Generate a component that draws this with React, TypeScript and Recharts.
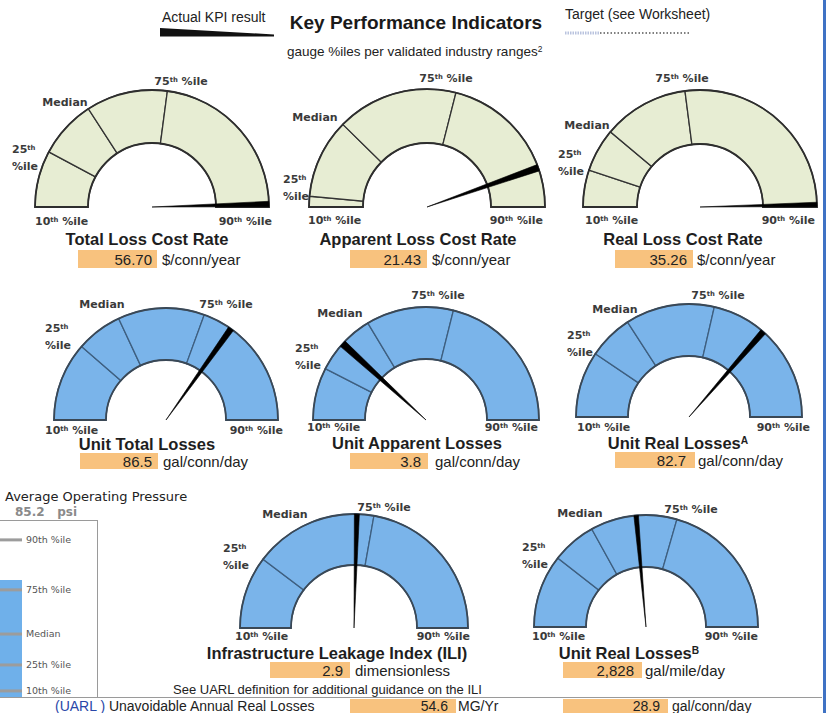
import React from 'react';
import { PieChart, Pie, Cell, BarChart, Bar, XAxis, YAxis, ReferenceLine } from 'recharts';

// ---------------- data ----------------
const kpiTitles = [
  'Total Loss Cost Rate',
  'Apparent Loss Cost Rate',
  'Real Loss Cost Rate',
  'Unit Total Losses',
  'Unit Apparent Losses',
  'Unit Real Losses',
  'Infrastructure Leakage Index (ILI)',
  'Unit Real Losses',
];
const kpiTitleSup = ['', '', '', '', '', 'A', '', 'B'];
const kpiValues = ['56.70', '21.43', '35.26', '86.5', '3.8', '82.7', '2.9', '2,828'];
const kpiUnits = [
  '$/conn/year', '$/conn/year', '$/conn/year',
  'gal/conn/day', 'gal/conn/day', 'gal/conn/day',
  'dimensionless', 'gal/mile/day',
];
// gauge position scale: 0 = 10th %ile, 100 = 90th %ile
const p25Pos = [15.6, 2.9, 10.2, 22.8, 15.0, 18.9, 20.6, 21.1];
const medianPos = [31.7, 24.7, 22.2, 36.1, 32.8, 31.7, 50.8, 33.9];
const p75Pos = [54.2, 57.9, 45.9, 61.1, 57.8, 57.2, 55.6, 58.9];
const actualPos = [99.2, 89.2, 99.3, 69.7, 23.6, 72.8, 50.8, 47.2];
const needleSpan = [1.5, 1.8, 1.2, 1.7, 2.0, 1.7, 1.4, 1.3];
const segmentNames = ['10th-25th', '25th-Median', 'Median-75th', '75th-90th'];

const pressureValue = 85.2;
const pressureUnit = 'psi';
const pressurePctNames = ['10th %ile', '25th %ile', 'Median', '75th %ile', '90th %ile'];
const pressurePctValues = [45, 54.4, 65.6, 81.6, 99.7];
const pressureDomain = [42.8, 106.9];

const uarlVolume = '54.6';
const uarlVolumeUnit = 'MG/Yr';
const uarlPerConn = '28.9';
const uarlPerConnUnit = 'gal/conn/day';

// ---------------- layout ----------------
const FONT = '"Liberation Sans", Arial, sans-serif';
const DJ = '"DejaVu Sans", Verdana, sans-serif';
const GREEN = '#e7edd3';
const BLUE = '#7ab4ea';
const ORANGE = '#f8c27e';

const gaugeLayout = [
  { cx: 152, cy: 207, ro: 117, ri: 64, med: [65, 102], p75: [181, 81], p25: [12, 149], p10: [35, 221], p90: [272, 221], title: [147, 239], box: [78, 250, 79, 18], valEnd: 152, unitX: 162, green: true },
  { cx: 426.5, cy: 207, ro: 118, ri: 64, med: [315, 117], p75: [446, 78], p25: [283, 179], p10: [308, 220], p90: [543, 220], title: [418, 239], box: [350, 250, 77, 18], valEnd: 421, unitX: 432, green: true },
  { cx: 700, cy: 207, ro: 117, ri: 63, med: [587, 125], p75: [682, 78], p25: [558, 154], p10: [585, 220], p90: [815, 220], title: [683, 239], box: [615, 250, 78, 18], valEnd: 687, unitX: 697, green: true },
  { cx: 166, cy: 420, ro: 112, ri: 60, med: [102, 304], p75: [226, 304], p25: [45, 328], p10: [45, 430], p90: [283, 430], title: [147, 444], box: [80, 453, 78, 16], valEnd: 152, unitX: 163 },
  { cx: 425.5, cy: 420, ro: 113, ri: 61, med: [340, 313], p75: [438, 295], p25: [295, 348], p10: [307, 427], p90: [538, 427], title: [417, 443], box: [350, 453, 78, 16], valEnd: 421, unitX: 435 },
  { cx: 688.5, cy: 417, ro: 113, ri: 61, med: [615, 309], p75: [718, 295], p25: [567, 335], p10: [577, 427], p90: [810, 427], title: [678, 443], box: [615, 452, 80, 16], valEnd: 686, unitX: 698 },
  { cx: 354, cy: 628, ro: 114, ri: 63, med: [285, 514], p75: [384, 507], p25: [223, 548], p10: [235, 636], p90: [470, 636], title: [337, 653], box: [270, 662, 80, 16], valEnd: 343, unitX: 355 },
  { cx: 645.5, cy: 627, ro: 112, ri: 60, med: [580, 513], p75: [691, 509], p25: [522, 547], p10: [532, 636], p90: [758, 636], title: [629, 653], box: [563, 662, 79, 16], valEnd: 634, unitX: 645 },
];

function Txt({ x, y, anchor = 'start', size = 12, weight = 400, family = FONT, color = '#222', children }: any) {
  const tx = anchor === 'middle' ? '-50%' : anchor === 'end' ? '-100%' : '0';
  return (
    <div
      style={{
        position: 'absolute', left: x, top: y, transform: `translate(${tx},-50%)`,
        fontSize: size, fontWeight: weight, fontFamily: family, color,
        whiteSpace: 'nowrap', lineHeight: 1,
      }}
    >
      {children}
    </div>
  );
}

const Sup = ({ children }: any) => (
  <span style={{ fontSize: '0.62em', position: 'relative', top: '-0.5em' }}>{children}</span>
);

function Box({ b }: any) {
  return <div style={{ position: 'absolute', left: b[0], top: b[1], width: b[2], height: b[3], background: ORANGE }} />;
}

function Gauge({ i }: { i: number }) {
  const L: any = gaugeLayout[i];
  const W = L.ro * 2 + 24;
  const H = L.ro + 16;
  const pcx = W / 2;
  const pcy = L.ro + 8;
  const segs = [
    { name: segmentNames[0], value: p25Pos[i] },
    { name: segmentNames[1], value: medianPos[i] - p25Pos[i] },
    { name: segmentNames[2], value: p75Pos[i] - medianPos[i] },
    { name: segmentNames[3], value: 100 - p75Pos[i] },
  ];
  const needle = [
    { name: 'before', value: actualPos[i] - needleSpan[i] / 2 },
    { name: 'actual', value: needleSpan[i] },
    { name: 'after', value: Math.max(0.01, 100 - actualPos[i] - needleSpan[i] / 2) },
  ];
  const fill = L.green ? GREEN : BLUE;
  const divStroke = L.green ? '#333' : '#3e5f80';
  const outStroke = L.green ? '#2e2e2e' : '#3a4856';
  const lbl = { size: 11, weight: 700, family: DJ, color: '#3a3a3a' };
  return (
    <>
      <div style={{ position: 'absolute', left: L.cx - W / 2, top: L.cy - pcy, width: W, height: H }}>
        <PieChart width={W} height={H} margin={{ top: 0, right: 0, bottom: 0, left: 0 }}>
          <Pie
            data={segs} dataKey="value" nameKey="name" cx={pcx} cy={pcy}
            startAngle={180} endAngle={0} innerRadius={L.ri} outerRadius={L.ro}
            fill={fill} stroke={divStroke} strokeWidth={1.3} isAnimationActive={false}
          >
            {segs.map((s, k) => (
              <Cell key={k} fill={fill} stroke={divStroke} strokeWidth={1.3} />
            ))}
          </Pie>
          <Pie
            data={[{ name: 'range', value: 100 }]} dataKey="value" cx={pcx} cy={pcy}
            startAngle={180} endAngle={0} innerRadius={L.ri} outerRadius={L.ro}
            fill="none" stroke={outStroke} strokeWidth={1.8} isAnimationActive={false}
          >
            <Cell fill="none" stroke={outStroke} strokeWidth={1.8} />
          </Pie>
          <Pie
            data={needle} dataKey="value" nameKey="name" cx={pcx} cy={pcy}
            startAngle={180} endAngle={0} innerRadius={0} outerRadius={L.ro}
            stroke="none" isAnimationActive={false}
          >
            <Cell fill="transparent" stroke="none" />
            <Cell fill="#000" stroke="#000" strokeWidth={0.6} />
            <Cell fill="transparent" stroke="none" />
          </Pie>
        </PieChart>
      </div>
      <Txt x={L.med[0]} y={L.med[1]} anchor="middle" {...lbl}>Median</Txt>
      <Txt x={L.p75[0]} y={L.p75[1]} anchor="middle" {...lbl}>75<Sup>th</Sup> %ile</Txt>
      <Txt x={L.p25[0]} y={L.p25[1]} {...lbl}>25<Sup>th</Sup></Txt>
      <Txt x={L.p25[0]} y={L.p25[1] + 17} {...lbl}>%ile</Txt>
      <Txt x={L.p10[0]} y={L.p10[1]} {...lbl}>10<Sup>th</Sup> %ile</Txt>
      <Txt x={L.p90[0]} y={L.p90[1]} anchor="end" {...lbl}>90<Sup>th</Sup> %ile</Txt>
      <Txt x={L.title[0]} y={L.title[1]} anchor="middle" size={16.5} weight={700} color="#1e1e1e">
        {kpiTitles[i]}{kpiTitleSup[i] ? <Sup>{kpiTitleSup[i]}</Sup> : null}
      </Txt>
      <Box b={L.box} />
      <Txt x={L.valEnd} y={L.box[1] + L.box[3] / 2} anchor="end" size={15}>{kpiValues[i]}</Txt>
      <Txt x={L.unitX} y={L.box[1] + L.box[3] / 2} size={15}>{kpiUnits[i]}</Txt>
    </>
  );
}

function PressurePanel() {
  const data = [{ name: 'Average Operating Pressure', value: pressureValue }];
  return (
    <>
      <Txt x={5} y={496} size={13} family={DJ} color="#222">Average Operating Pressure</Txt>
      <Txt x={15} y={512} size={12} weight={700} family={DJ} color="#8a8a8a">
        {pressureValue}&nbsp;&nbsp;&nbsp;{pressureUnit}
      </Txt>
      <div style={{ position: 'absolute', left: -2, top: 520, width: 100, height: 177, borderTop: '1px solid #9a9a9a', borderRight: '1px solid #9a9a9a', boxSizing: 'border-box' }} />
      <div style={{ position: 'absolute', left: 0, top: 520 }}>
        <BarChart width={98} height={177} data={data} margin={{ top: 0, right: 76, bottom: 0, left: 0 }} barCategoryGap={0}>
          <XAxis dataKey="name" hide />
          <YAxis hide type="number" domain={pressureDomain} allowDataOverflow />
          <Bar dataKey="value" fill="#6fb0ea" isAnimationActive={false} />
          {pressurePctValues.map((v, k) => (
            <ReferenceLine
              key={k} y={v} stroke="#9c9c9c" strokeWidth={3}
              label={{ value: pressurePctNames[k], position: 'right', fill: '#555', fontSize: 9.5, fontFamily: DJ, offset: 4 }}
            />
          ))}
        </BarChart>
      </div>
    </>
  );
}

export default function App() {
  return (
    <div style={{ position: 'absolute', left: 0, top: 0, width: 830, height: 713, background: '#fff', overflow: 'hidden', fontFamily: FONT }}>
      {/* header */}
      <Txt x={162} y={17} size={14} color="#222">Actual KPI result</Txt>
      <svg style={{ position: 'absolute', left: 0, top: 0 }} width={830} height={60}>
        <polygon points="160,28 274,34.5 274,36.5 160,36.5" fill="#111" />
        <line x1={565} y1={33} x2={600} y2={33} stroke="#b9c3de" strokeWidth={3} strokeDasharray="1.5 1" />
        <line x1={600} y1={33} x2={690} y2={33} stroke="#555" strokeWidth={1.5} strokeDasharray="1.5 2" />
      </svg>
      <Txt x={416} y={22} anchor="middle" size={19} weight={700} color="#1a1a1a">Key Performance Indicators</Txt>
      <Txt x={565} y={14} size={14} color="#222">Target (see Worksheet)</Txt>
      <Txt x={287} y={52} size={13.5} color="#222">gauge %iles per validated industry ranges<Sup>2</Sup></Txt>

      {gaugeLayout.map((_, i) => <Gauge key={i} i={i} />)}

      <PressurePanel />

      {/* footer */}
      <Txt x={173} y={689} size={13} color="#222">See UARL definition for additional guidance on the ILI</Txt>
      <div style={{ position: 'absolute', left: 0, top: 697, width: 822, height: 1, background: '#9a9a9a' }} />
      <Txt x={55} y={705.5} size={14} color="#222">
        <span style={{ color: '#2a47a8' }}>(UARL )</span> Unavoidable Annual Real Losses
      </Txt>
      <Box b={[350, 699, 106, 14]} />
      <Txt x={448} y={705.5} anchor="end" size={14}>{uarlVolume}</Txt>
      <Txt x={458} y={705.5} size={14}>{uarlVolumeUnit}</Txt>
      <Box b={[563, 699, 105, 14]} />
      <Txt x={660} y={705.5} anchor="end" size={14}>{uarlPerConn}</Txt>
      <Txt x={672} y={705.5} size={14}>{uarlPerConnUnit}</Txt>

      <div style={{ position: 'absolute', left: 823, top: 0, width: 3, height: 713, background: '#3f72c4' }} />
    </div>
  );
}
